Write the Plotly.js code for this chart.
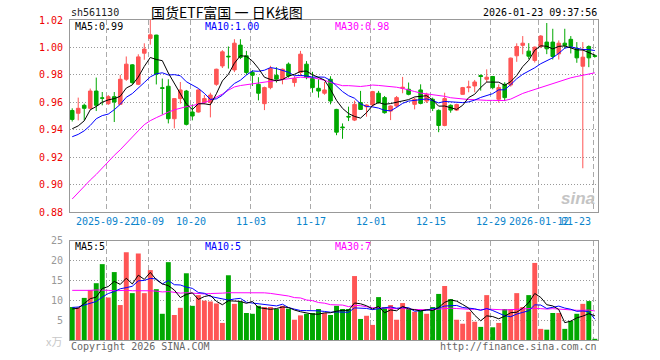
<!DOCTYPE html>
<html>
<head>
<meta charset="utf-8">
<script src="https://cdn.plot.ly/plotly-3.0.1.min.js"></script>
<style>html,body{margin:0;padding:0;background:#fff;}#chart{width:660px;height:360px;}</style>
</head>
<body>
<div id="chart"></div>
<script>
// ---- data (88 trading days, 2025-09-12 .. 2026-01-23) ----
const openP = [0.9540,0.9520,0.9578,0.9556,0.9682,0.9632,0.9590,0.9641,0.9585,0.9768,
0.9873,0.9731,0.9958,1.0066,1.0090,0.9706,0.9717,0.9480,0.9627,0.9682,
0.9529,0.9529,0.9598,0.9598,0.9731,0.9865,0.9936,0.9836,1.0017,0.9939,
0.9817,0.9731,0.9590,0.9707,0.9797,0.9768,0.9878,0.9744,0.9817,0.9878,
0.9773,0.9702,0.9666,0.9768,0.9548,0.9420,0.9497,0.9470,0.9598,0.9568,
0.9580,0.9666,0.9634,0.9536,0.9573,0.9702,0.9695,0.9585,0.9690,0.9609,
0.9622,0.9541,0.9431,0.9578,0.9543,0.9658,0.9707,0.9719,0.9795,0.9768,
0.9788,0.9622,0.9731,0.9726,0.9939,1.0015,0.9973,0.9905,1.0007,1.0039,
1.0039,0.9953,1.0031,1.0059,0.9990,0.9863,1.0007,0.9940];
const highP = [0.9556,0.9634,0.9590,0.9700,0.9780,0.9675,0.9653,0.9675,0.9800,0.9934,
0.9878,0.9950,1.0030,1.0200,1.0092,0.9773,0.9768,0.9630,0.9748,0.9690,
0.9585,0.9695,0.9653,0.9670,0.9845,0.9980,1.0007,1.0060,1.0060,0.9975,
0.9834,0.9783,0.9714,0.9866,0.9856,0.9846,0.9890,0.9790,0.9975,0.9900,
0.9822,0.9768,0.9748,0.9790,0.9552,0.9446,0.9568,0.9612,0.9683,0.9585,
0.9683,0.9683,0.9646,0.9578,0.9646,0.9785,0.9744,0.9634,0.9731,0.9670,
0.9634,0.9548,0.9670,0.9585,0.9590,0.9712,0.9758,0.9763,0.9803,0.9840,
0.9792,0.9731,0.9746,0.9926,1.0030,1.0083,1.0031,1.0007,1.0090,1.0178,
1.0136,1.0051,1.0136,1.0083,1.0039,1.0039,1.0015,0.9950];
const lowP = [0.9460,0.9468,0.9468,0.9546,0.9536,0.9578,0.9580,0.9456,0.9585,0.9756,
0.9731,0.9725,0.9910,1.0020,0.9730,0.9510,0.9446,0.9410,0.9590,0.9431,
0.9468,0.9525,0.9585,0.9490,0.9720,0.9850,0.9846,0.9820,0.9915,0.9800,
0.9719,0.9614,0.9543,0.9695,0.9744,0.9731,0.9780,0.9714,0.9792,0.9768,
0.9670,0.9634,0.9655,0.9585,0.9360,0.9334,0.9463,0.9463,0.9545,0.9495,
0.9568,0.9590,0.9517,0.9470,0.9560,0.9666,0.9651,0.9548,0.9585,0.9595,
0.9536,0.9382,0.9425,0.9524,0.9536,0.9655,0.9673,0.9673,0.9685,0.9745,
0.9695,0.9597,0.9609,0.9714,0.9895,0.9950,0.9915,0.9890,0.9995,0.9951,
0.9912,0.9912,0.9990,0.9956,0.9888,0.9119,0.9856,0.9925];
const closeP = [0.9475,0.9556,0.9556,0.9682,0.9578,0.9630,0.9641,0.9602,0.9768,0.9878,
0.9744,0.9931,0.9988,1.0092,0.9805,0.9702,0.9480,0.9627,0.9690,0.9439,
0.9500,0.9690,0.9627,0.9653,0.9841,0.9968,0.9932,1.0031,0.9927,0.9817,
0.9797,0.9666,0.9707,0.9846,0.9768,0.9841,0.9792,0.9773,0.9951,0.9780,
0.9707,0.9682,0.9690,0.9609,0.9382,0.9415,0.9493,0.9585,0.9548,0.9580,
0.9678,0.9598,0.9524,0.9573,0.9634,0.9709,0.9658,0.9622,0.9592,0.9658,
0.9556,0.9431,0.9627,0.9543,0.9583,0.9707,0.9712,0.9748,0.9788,0.9783,
0.9707,0.9707,0.9634,0.9922,1.0007,1.0031,0.9936,1.0002,1.0083,0.9990,
0.9934,1.0031,1.0015,1.0007,0.9924,0.9929,0.9924,0.9935];
const volume = [8.3,8.2,10.6,12.6,14.3,19.1,10.7,17.1,8.8,22.1,
11.8,21.8,11.8,17.6,12.8,6.6,19.6,6.3,8.1,16.8,
8.6,11.3,9.9,9.7,9.2,4.3,16.3,9.1,9.7,6.8,
6.6,8.6,8.3,8.3,7.8,8.6,7.9,5.1,6.2,6.6,
6.8,7.8,6.8,6.3,8.6,7.8,7.8,16.1,5.3,6.1,
3.8,10.8,8.3,8.8,5.1,9.3,7.8,7.1,7.3,6.6,
8.3,11.6,13.6,10.3,5.1,4.1,7.1,4.6,3.3,11.3,
3.2,4.3,7.8,7.8,11.8,8.3,11.3,19.4,2.8,2.6,
6.8,6.8,2.8,4.8,6.6,9.1,9.8,0.3];
// moving-average values before each window is full
const ma5Head  = [0.9407,0.9428,0.9465,0.9545];
const ma10Head = [0.9349,0.9366,0.9392,0.9431,0.9480,0.9503,0.9514,0.9546,0.9585];
const ma30Head = [0.8895,0.8942,0.8984,0.9033,0.9074,0.9122,0.9165,0.9213,0.9254,0.9302,
0.9343,0.9392,0.9437,0.9466,0.9488,0.9510,0.9528,0.9545,0.9558,0.9568,
0.9576,0.9585,0.9598,0.9615,0.9635,0.9660,0.9688,0.9712,0.9722];
const vma5Head  = [7.8,8.0,9.2,10.4];
const vma10Head = [8.2,8.3,8.8,9.2,9.7,10.8,11.7,12.2,12.9];
const vma30Head = [12.5,12.5,12.4,12.5,12.6,12.6,12.5,12.4,12.5,12.5,
12.4,12.4,12.5,12.4,12.3,12.1,12.2,12.0,11.8,11.9,
11.8,11.6,11.6,11.7,11.7,11.8,11.9,11.9,11.9];
const tickIdx  = [6,13,20,30,40,50,60,70,78,87];
const tickText = ['2025-09-22','10-09','10-20','11-03','11-17','12-01','12-15','12-29','2026-01-12','01-23'];
const priceTicks = [0.88,0.90,0.92,0.94,0.96,0.98,1.00,1.02];
const volTicks = [5,10,15,20,25];
const legendMain = ['MA5:0.99','MA10:1.00','MA30:0.98'];
const legendVol  = ['MA5:5','MA10:5','MA30:7'];

// ---- derived ----
const idx = closeP.map((_, i) => i);
function movingAvg(vals, n, head) {
  return vals.map((v, i) => {
    if (i < head.length) return head[i];
    let s = 0; for (let k = i - n + 1; k <= i; k++) s += vals[k];
    return s / n;
  });
}
const RED = '#ff5555', GREEN = '#00a800';
const volColors = closeP.map((c, i) => c >= openP[i] ? RED : GREEN);
const tickPos = tickIdx.map(i => i - 0.3);
const MONO = 'DejaVu Sans Mono';

const traces = [
  {type:'candlestick', x: idx, open: openP, high: highP, low: lowP, close: closeP,
   xaxis:'x', yaxis:'y', whiskerwidth:0,
   increasing:{line:{color:RED,width:1}, fillcolor:RED},
   decreasing:{line:{color:GREEN,width:1}, fillcolor:GREEN}, hoverinfo:'skip'},
  {type:'scatter', mode:'lines', x: idx, y: movingAvg(closeP,30,ma30Head), line:{color:'#ff00ff',width:1}, xaxis:'x', yaxis:'y'},
  {type:'scatter', mode:'lines', x: idx, y: movingAvg(closeP,10,ma10Head), line:{color:'#0000ff',width:1}, xaxis:'x', yaxis:'y'},
  {type:'scatter', mode:'lines', x: idx, y: movingAvg(closeP,5,ma5Head), line:{color:'#000000',width:1}, xaxis:'x', yaxis:'y'},
  {type:'bar', x: idx, y: volume, marker:{color: volColors, line:{width:0}}, width:0.82, xaxis:'x2', yaxis:'y2'},
  {type:'scatter', mode:'lines', x: idx, y: movingAvg(volume,30,vma30Head), line:{color:'#ff00ff',width:1}, xaxis:'x2', yaxis:'y2'},
  {type:'scatter', mode:'lines', x: idx, y: movingAvg(volume,10,vma10Head), line:{color:'#0000ff',width:1}, xaxis:'x2', yaxis:'y2'},
  {type:'scatter', mode:'lines', x: idx, y: movingAvg(volume,5,vma5Head), line:{color:'#000000',width:1}, xaxis:'x2', yaxis:'y2'}
];

const L = 70, R = 62, T = 20, B = 20, W = 660, H = 360;
const pw = W - L - R, ph = H - T - B;
const px = x => (x - L) / pw;
const py = y => (H - B - y) / ph;
function ann(text, x, y, color, anchor, size, family, extra) {
  return Object.assign({text, x: px(x), y: py(y), xref:'paper', yref:'paper',
    xanchor: anchor, yanchor:'middle', showarrow:false,
    font:{family: family || MONO, size: size || 10, color}}, extra || {});
}
const annotations = [
  ann('sh561130', 69, 13, '#222', 'left'),
  ann('国货ETF富国 一 日K线图', 149, 12, '#000', 'left', 14, 'Noto Sans CJK SC'),
  ann('2026-01-23 09:37:56', 599, 13, '#000', 'right'),
  ann(legendMain[0], 73, 26, '#000', 'left'),
  ann(legendMain[1], 203, 26, '#0000ff', 'left'),
  ann(legendMain[2], 333, 26, '#ff00ff', 'left'),
  ann(legendVol[0], 73, 246, '#000', 'left'),
  ann(legendVol[1], 203, 246, '#0000ff', 'left'),
  ann(legendVol[2], 333, 246, '#ff00ff', 'left'),
  ann('x万', 64, 341, '#c8c8c8', 'right', 11, 'Noto Sans CJK SC'),
  ann('Copyright 2026 SINA.COM', 69, 346, '#666', 'left'),
  ann('http://finance.sina.com.cn', 599, 346, '#666', 'right'),
  ann('sina', 597, 198, '#c4c4c4', 'right', 17, 'Liberation Sans', {font:{family:'Liberation Sans', size:17, color:'#c4c4c4', weight:'bold', style:'italic'}})
];
tickText.forEach((t, k) => {
  annotations.push({text: t, x: tickPos[k], y: py(221.5), xref:'x', yref:'paper',
    xanchor: k === tickText.length - 1 ? 'right' : 'center', yanchor:'middle', showarrow:false,
    font:{family: MONO, size: 10, color:'#0a84cc'}});
});

const gridX = {range:[-0.37, 87.53], tickvals: tickPos, showticklabels:false, ticks:'',
  showgrid:true, gridcolor:'#aaaaaa', griddash:'5px,3px', gridwidth:1, zeroline:false,
  showline:true, linecolor:'#999999', linewidth:1, mirror:true, fixedrange:true};
const layout = {
  width: W, height: H, margin:{l:L, r:R, t:T, b:B, pad:0},
  paper_bgcolor:'#ffffff', plot_bgcolor:'#ffffff', showlegend:false, hovermode:false,
  boxgap: 0.15,
  xaxis: Object.assign({anchor:'y', domain:[0,1], rangeslider:{visible:false}}, gridX),
  xaxis2: Object.assign({anchor:'y2', domain:[0,1]}, gridX),
  yaxis: {domain:[0.4,1], range:[0.88,1.02], tickvals: priceTicks, tickformat:'.2f', ticks:'',
    tickfont:{family:MONO, size:10, color:'#ee0000'}, ticklabelstandoff:4,
    showgrid:true, gridcolor:'#999999', griddash:'1px,2px', zeroline:false,
    showline:true, linecolor:'#999999', mirror:true, fixedrange:true},
  yaxis2: {domain:[0,0.3103], range:[0,25], tickvals: volTicks, ticks:'',
    tickfont:{family:MONO, size:10, color:'#999999'}, ticklabelstandoff:4,
    showgrid:true, gridcolor:'#999999', griddash:'1px,2px', zeroline:false,
    showline:true, linecolor:'#999999', mirror:true, fixedrange:true},
  annotations
};
Plotly.newPlot('chart', traces, layout, {staticPlot:true, displayModeBar:false});
</script>
</body>
</html>
